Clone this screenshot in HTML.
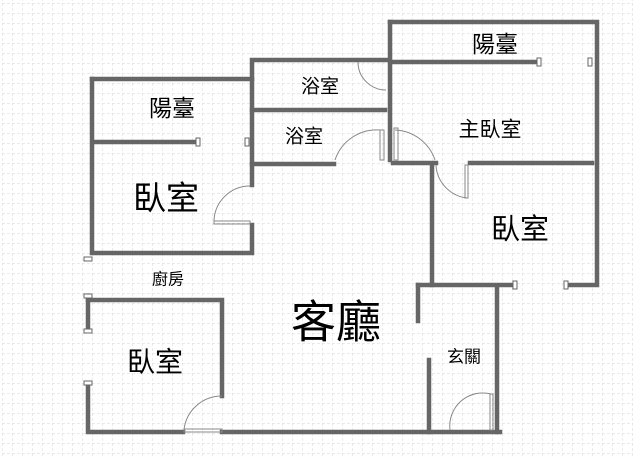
<!DOCTYPE html>
<html><head><meta charset="utf-8"><style>
html,body{margin:0;padding:0;background:#fff}
svg{display:block}
text{font-family:"Liberation Sans","Noto Sans CJK TC",sans-serif;fill:#000;text-anchor:middle;dominant-baseline:central}
</style></head><body>
<svg width="633" height="458" viewBox="0 0 633 458" xmlns="http://www.w3.org/2000/svg">
<defs>
<pattern id="g" width="10" height="10" patternUnits="userSpaceOnUse" x="2" y="3">
<path d="M0 0H10M0 0V10" stroke="#d6d6d6" stroke-width="1" stroke-dasharray="3,2" fill="none"/>
</pattern>
</defs>
<rect width="633" height="458" fill="url(#g)"/>
<g stroke="#666" stroke-width="4.5" fill="none" stroke-linecap="square">
<path d="M92 79V253H252V225"/>
<path d="M252 185V60H388"/>
<path d="M92 79H252"/>
<path d="M95 142H196"/>
<path d="M252 110H385"/>
<path d="M252 164H334"/>
<path d="M390 22V160"/>
<path d="M390 22H597V285H567"/>
<path d="M392 62H537"/>
<path d="M393 163H436"/>
<path d="M470 163H592"/>
<path d="M432 165V285H515"/>
<path d="M418 285H432"/>
<path d="M418 285V321"/>
<path d="M429 360V432"/>
<path d="M497 288V432"/>
<path d="M88 300H222V396"/>
<path d="M88 300V330"/>
<path d="M88 383V432H183"/>
<path d="M222 432H500"/>
</g>
<g stroke="#666" stroke-width="1" fill="#fff">
<rect x="196" y="138" width="4" height="8"/>
<rect x="245" y="138" width="4" height="8"/>
<rect x="537" y="58" width="4" height="8"/>
<rect x="588" y="58" width="4" height="8"/>
<rect x="513" y="281" width="4" height="8"/>
<rect x="564" y="281" width="4" height="8"/>
<rect x="84" y="257" width="8" height="4"/>
<rect x="84" y="294" width="8" height="4"/>
<rect x="84" y="329" width="8" height="4"/>
<rect x="84" y="381" width="8" height="4"/>
</g>
<g stroke="#888" stroke-width="1" fill="none">
<path d="M386 90A28 28 0 0 1 358 62"/>
<path d="M335 160A44 44 0 0 1 380 130"/>
<rect x="380" y="130" width="4" height="30"/>
<path d="M395 130A44 44 0 0 1 435 160"/>
<rect x="394" y="128" width="4" height="32"/>
<path d="M436 165A35 35 0 0 0 467 198"/>
<rect x="465" y="165" width="3" height="33"/>
<path d="M214 222A36 36 0 0 1 250 186"/>
<rect x="214" y="221" width="36" height="3"/>
<path d="M184 430A38 38 0 0 1 222 396"/>
<rect x="184" y="429" width="38" height="3"/>
<path d="M450 430A33 33 0 0 1 491 394"/>
<rect x="490" y="394" width="3" height="36"/>
</g>
<text x="172" y="108" font-size="23">陽臺</text>
<text x="320" y="87" font-size="19">浴室</text>
<text x="304" y="137" font-size="19">浴室</text>
<text x="166" y="198" font-size="33">臥室</text>
<text x="495" y="44" font-size="23">陽臺</text>
<text x="490" y="130" font-size="21">主臥室</text>
<text x="520" y="230" font-size="29">臥室</text>
<text x="168" y="280" font-size="16">廚房</text>
<text x="336" y="322" font-size="45">客廳</text>
<text x="155" y="362" font-size="28">臥室</text>
<text x="464" y="357" font-size="17">玄關</text>
</svg>
</body></html>
